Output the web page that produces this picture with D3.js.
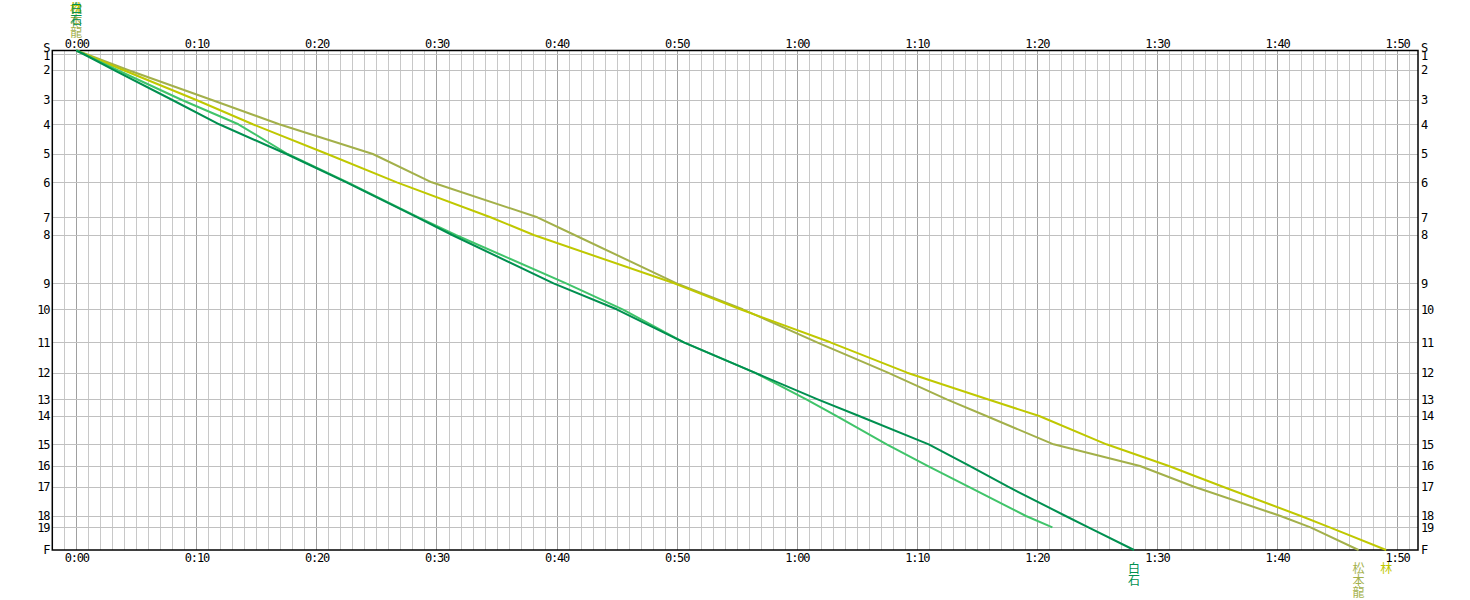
<!DOCTYPE html>
<html>
<head>
<meta charset="utf-8">
<script src="https://cdn.jsdelivr.net/npm/d3@7"></script>
<style>
  html, body { margin: 0; padding: 0; background: #ffffff; }
  svg { display: block; }
</style>
</head>
<body>
<div id="chart"></div>
<script>
// ---- data ----
const checkpoints = ["S","1","2","3","4","5","6","7","8","9","10","11","12","13","14","15","16","17","18","19","F"];
// cumulative course position of each checkpoint (% of course)
const checkpointDist = [0, 0.7, 3.9, 9.91, 14.77, 20.72, 26.39, 33.39, 36.94, 46.61, 51.81, 58.42, 64.5, 69.83, 73.17, 78.84, 83.18, 87.33, 93.19, 95.46, 100];

const timeTicks = [0, 10, 20, 30, 40, 50, 60, 70, 80, 90, 100, 110];
const timeTickLabels = ["0:00","0:10","0:20","0:30","0:40","0:50","1:00","1:10","1:20","1:30","1:40","1:50"];

const runnerNames  = ["松本龍", "林", "", "白石"];
const runnerColors = ["#a3b04a", "#bfc800", "#40c46a", "#009050"];

// elapsed minutes at each checkpoint
const splitsMatsumoto = [0, 0.8, 4.3, 11.3, 16.9, 24.7, 29.6, 38.4, 41.5, 50.0, 55.5, 61.7, 67.6, 72.5, 75.8, 81.4, 88.6, 93.1, 100.3, 102.8, 106.8];
const splitsHayashi   = [0, 0.7, 3.9, 10.0, 14.7, 20.9, 26.7, 34.5, 38.1, 49.8, 55.3, 62.8, 69.2, 75.9, 80.2, 85.8, 91.0, 95.5, 102.0, 104.4, 109.1];
const splitsLight     = [0, 0.6, 3.4, 8.8, 13.5, 17.6, 22.6, 28.5, 31.6, 40.8, 45.5, 50.6, 56.5, 60.8, 63.3, 67.5, 70.9, 74.3, 79.1, 81.3];
const splitsShiraishi = [0, 0.6, 3.1, 8.0, 11.9, 17.5, 22.5, 28.4, 31.3, 39.75, 45.0, 50.6, 56.5, 61.75, 65.2, 71.0, 74.4, 77.6, 82.4, 84.3, 88.1];

const allSplits = [splitsMatsumoto, splitsHayashi, splitsLight, splitsShiraishi];

// ---- chart ----
const W = 1470, H = 600;
const svg = d3.select("#chart").append("svg").attr("width", W).attr("height", H)
  .style("font-family", "'DejaVu Sans Mono', 'Liberation Mono', monospace");

const x = d3.scaleLinear().domain([-2, 111.75]).range([52.3, 1418]);
const y = d3.scaleLinear().domain([0, 100]).range([50.5, 550]);

// minute grid
const minutes = d3.range(-1, 112);
svg.append("g").selectAll("line").data(minutes).join("line")
  .attr("x1", d => Math.round(x(d)) + 0.5).attr("x2", d => Math.round(x(d)) + 0.5)
  .attr("y1", y(0)).attr("y2", y(100))
  .attr("stroke", d => d % 10 === 0 ? "#a0a0a0" : "#c8c8c8")
  .attr("stroke-width", 1);

// checkpoint grid
svg.append("g").selectAll("line").data(checkpointDist.slice(1, -1)).join("line")
  .attr("x1", x(-2)).attr("x2", x(111.75))
  .attr("y1", d => Math.round(y(d)) + 0.5).attr("y2", d => Math.round(y(d)) + 0.5)
  .attr("stroke", "#c0c0c0").attr("stroke-width", 1);

// frame
svg.append("rect")
  .attr("x", x(-2)).attr("y", y(0))
  .attr("width", x(111.75) - x(-2)).attr("height", y(100) - y(0))
  .attr("fill", "none").attr("stroke", "#000").attr("stroke-width", 1.5);

// time axes (top and bottom)
const xAxisTop = d3.axisTop(x).tickValues(timeTicks).tickFormat((d, i) => timeTickLabels[i]).tickSize(0).tickPadding(3);
const xAxisBot = d3.axisBottom(x).tickValues(timeTicks).tickFormat((d, i) => timeTickLabels[i]).tickSize(0).tickPadding(3);
const gxt = svg.append("g").attr("transform", `translate(0,${y(0)})`).call(xAxisTop);
const gxb = svg.append("g").attr("transform", `translate(0,${y(100)})`).call(xAxisBot);

// checkpoint axes (left and right)
const yAxisL = d3.axisLeft(y).tickValues(checkpointDist).tickFormat((d, i) => checkpoints[i]).tickSize(0).tickPadding(3);
const yAxisR = d3.axisRight(y).tickValues(checkpointDist).tickFormat((d, i) => checkpoints[i]).tickSize(0).tickPadding(3);
const gyl = svg.append("g").attr("transform", `translate(${x(-2)},0)`).call(yAxisL);
const gyr = svg.append("g").attr("transform", `translate(${x(111.75)},0)`).call(yAxisR);

[gxt, gxb, gyl, gyr].forEach(g => {
  g.select(".domain").remove();
  g.selectAll("text").attr("fill", "#000").style("font-size", "12px")
   .style("letter-spacing", "-1.2px")
   .style("font-family", "'DejaVu Sans Mono', 'Liberation Mono', monospace");
});
// S and 1 sit almost on top of each other, as in the original
[gyl, gyr].forEach(g => {
  g.selectAll("text").filter((d, i) => i === 0).attr("dy", "0.1em");
  g.selectAll("text").filter((d, i) => i === 1).attr("dy", "0.45em");
});

// runner lines
const line = d3.line().x(d => x(d.t)).y(d => y(d.d));
allSplits.forEach((splits, r) => {
  const pts = splits.map((t, i) => ({ t: t, d: checkpointDist[i] }));
  svg.append("path").datum(pts)
    .attr("d", line)
    .attr("fill", "none")
    .attr("stroke", runnerColors[r])
    .attr("stroke-width", 2)
    .attr("stroke-linejoin", "round");
});

// runner name labels (vertical, one char per row)
function vlabel(name, cx, y0, color) {
  const g = svg.append("g");
  Array.from(name).forEach((ch, i) => {
    g.append("text")
      .attr("x", cx).attr("y", y0 + i * 12.2)
      .attr("text-anchor", "middle")
      .attr("fill", color)
      .style("font-family", "'Noto Sans CJK JP', sans-serif")
      .style("font-size", "12px")
      .text(ch);
  });
}
// start labels (top)
allSplits.forEach((splits, r) => {
  if (runnerNames[r]) vlabel(runnerNames[r], x(splits[0]), 12.5, runnerColors[r]);
});
// finish labels (bottom) — only for runners reaching F
allSplits.forEach((splits, r) => {
  if (runnerNames[r] && splits.length === checkpoints.length) {
    vlabel(runnerNames[r], x(splits[splits.length - 1]), 573, runnerColors[r]);
  }
});
</script>
</body>
</html>
